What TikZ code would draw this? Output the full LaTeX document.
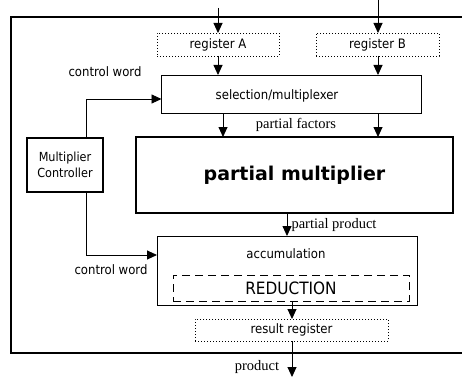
\documentclass[tikz,border=0pt]{standalone}
\usepackage{fontspec}
\setmainfont{Liberation Serif}
\newfontfamily\condsans{DejaVu Sans Condensed}
\newfontfamily\widesans{DejaVu Sans}
\usetikzlibrary{arrows.meta}

\begin{document}
\begin{tikzpicture}[x=1pt, y=-1pt, line width=0.9pt,
  >={Triangle[length=10pt,width=9pt]},
  box/.style={draw, rectangle, inner sep=0pt, outer sep=0pt},
  regbox/.style={box, dash pattern=on 1pt off 2pt, line width=0.8pt,
    font=\condsans\fontsize{13}{15}\selectfont},
  sanstext/.style={font=\condsans\fontsize{13}{15}\selectfont, inner sep=0pt},
  seriftext/.style={font=\fontsize{14.5}{16}\selectfont, inner sep=0pt}]
\useasboundingbox (0,0) rectangle (462,377);

% outer frame, open to the right
\draw[line width=2.2pt] (462,17) -- (11,17) -- (11,353) -- (462,353);

% operand registers
\node[regbox, minimum width=122pt, minimum height=23pt] (regA) at (218,44.5) {register A};
\node[regbox, minimum width=123pt, minimum height=23pt] (regB) at (377.5,44.5) {register B};

% selection stage
\node[box, minimum width=259.5pt, minimum height=38.5pt] (sel) at (291.25,94.25) {};
\node[sanstext] (seltext) at (277,96) {selection/multiplexer};

% controller
\node[box, line width=1.1pt, minimum width=76pt, minimum height=54pt, align=center,
  font=\condsans\fontsize{12.5}{16}\selectfont] (ctrl) at (65,165) {Multiplier\\Controller};

% partial multiplier
\node[box, line width=1.3pt, minimum width=317pt, minimum height=76pt,
  font=\widesans\bfseries\fontsize{19}{22}\selectfont] (pm) at (294.5,175) {partial multiplier};

% accumulation with reduction
\node[box, minimum width=260pt, minimum height=69pt] (acc) at (287,270.5) {};
\node[sanstext] (acctext) at (286,254) {accumulation};
\node[box, dash pattern=on 8pt off 5pt, minimum width=236pt, minimum height=26pt,
  font=\condsans\fontsize{17}{19}\selectfont] (red) at (291,288) {REDUCTION};

% result register
\node[regbox, minimum width=193pt, minimum height=22pt] (res) at (291.5,330) {result register};

% connector anchors
\coordinate (inA) at (218,8);
\coordinate (inB) at (378,0);
\coordinate (fA) at (223,0);
\coordinate (fB) at (378,0);
\coordinate (cx) at (86,0);
\coordinate (pp) at (287,0);
\coordinate (rr) at (292,0);
\coordinate (outP) at (292,377);

% data path
\draw[->] (inA) -- (regA.north);
\draw[->] (inB) -- (inB |- regB.north);
\draw[->] (regA.south) -- (regA.south |- sel.north);
\draw[->] (regB.south -| inB) -- (sel.north -| inB);
\draw[->] (sel.south -| fA) -- (pm.north -| fA);
\draw[->] (sel.south -| fB) -- (pm.north -| fB);
\draw[->] (pm.south -| pp) -- (acc.north -| pp);
\draw[->] (red.south -| rr) -- (res.north -| rr);
\draw[->] (res.south -| rr) -- (outP);

% control path
\draw[->] (ctrl.north -| cx) |- ([yshift=-4.75pt]sel.west);
\draw[->] (ctrl.south -| cx) |- ([yshift=15.5pt]acc.west);

% labels
\node[sanstext] (cwA) at (105,72) {control word};
\node[sanstext] (cwB) at (111,270) {control word};
\node[seriftext] (pf) at (296,125) {partial factors};
\node[seriftext] (ppl) at (334,225) {partial product};
\node[seriftext] (prod) at (257,367) {product};
\end{tikzpicture}
\end{document}
